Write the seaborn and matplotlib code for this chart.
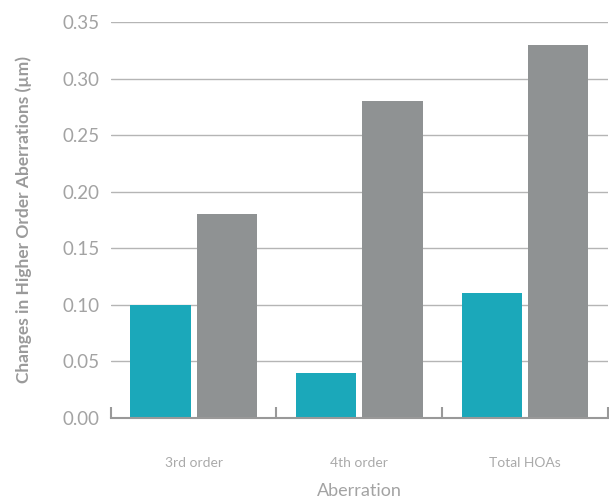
import pandas as pd
import numpy as np
import seaborn as sns
import matplotlib.pyplot as plt
from matplotlib.ticker import FixedLocator

categories = ["3rd order", "4th order", "Total HOAs"]
series_names = ["Group A", "Group B"]
values_a = [0.10, 0.04, 0.11]
values_b = [0.18, 0.28, 0.33]
y_ticks = [0.00, 0.05, 0.10, 0.15, 0.20, 0.25, 0.30, 0.35]

df = pd.DataFrame({
    "Aberration": categories * 2,
    "value": values_a + values_b,
    "series": [series_names[0]] * 3 + [series_names[1]] * 3,
})

sns.set_style("white")
plt.rcParams["font.family"] = ["Lato", "DejaVu Sans"]

fig = plt.figure(figsize=(6.09, 5.01), dpi=100)
ax = fig.add_axes([0.182, 0.166, 0.816, 0.790])

sns.barplot(data=df, x="Aberration", y="value", hue="series",
            palette=["#1ba8ba", "#8f9293"], saturation=1, width=0.8, gap=0.09,
            linewidth=0, legend=False, ax=ax, zorder=3)

ax.set_xlim(-0.5, 2.5)
ax.set_ylim(0, 0.35)
ax.set_yticks(y_ticks)
ax.set_yticklabels([f"{t:.2f}" for t in y_ticks])
ax.yaxis.grid(True, color="#b5b5b5", linewidth=1)
ax.set_axisbelow(True)

for s in ["top", "right", "left"]:
    ax.spines[s].set_visible(False)
ax.spines["bottom"].set_color("#999999")
ax.spines["bottom"].set_linewidth(1.5)
ax.spines["bottom"].set_zorder(4)

ax.tick_params(axis="y", length=0, pad=8, labelsize=13.5, labelcolor="#a3a3a3")
ax.tick_params(axis="x", which="major", bottom=False, length=0, pad=28,
               labelsize=10, labelcolor="#aaaaaa")
ax.xaxis.set_minor_locator(FixedLocator([-0.5, 0.5, 1.5, 2.5]))
ax.tick_params(axis="x", which="minor", bottom=True, direction="in", length=8,
               width=1.5, color="#999999")

ax.set_xlabel("Aberration", fontsize=13, color="#a3a3a3", labelpad=10)
ax.set_ylabel("Changes in Higher Order Aberrations (µm)", fontsize=12.5,
              fontweight="bold", color="#9a9a9a", labelpad=22)

fig.savefig("out.png", dpi=100)
